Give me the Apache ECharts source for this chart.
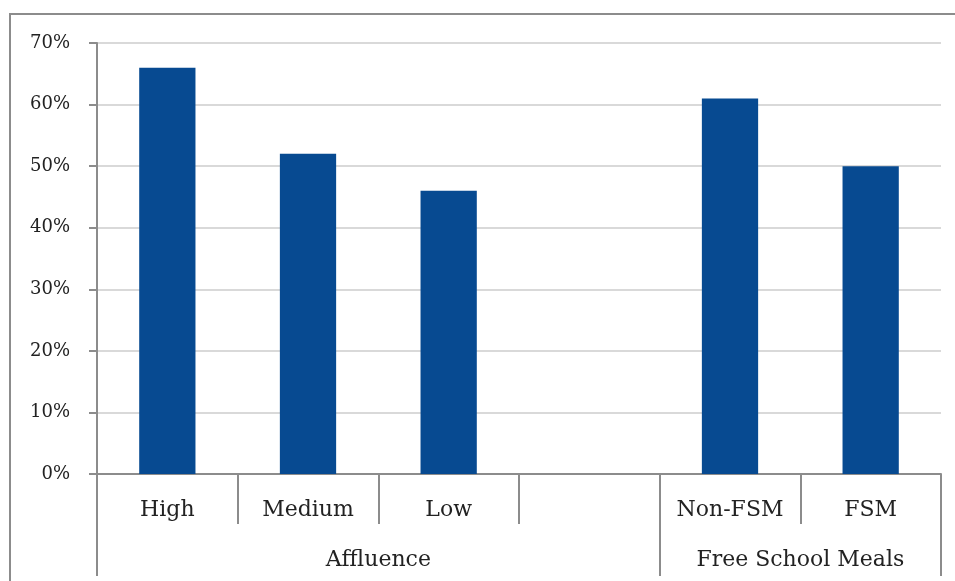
<!DOCTYPE html>
<html><head><meta charset="utf-8">
<script src="https://cdn.jsdelivr.net/npm/echarts@6/dist/echarts.min.js"></script>
<style>html,body{margin:0;padding:0;background:#fff}#c{width:955px;height:581px}</style>
</head><body><div id="c"></div>
<script>
const categories = ['High', 'Medium', 'Low', '', 'Non-FSM', 'FSM'];
const values = [66, 52, 46, null, 61, 50];
const groups = ['Affluence', 'Free School Meals'];
const groupBounds = [0, 4, 6];
const groupCenters = [2, 5];
const yTicks = [0, 10, 20, 30, 40, 50, 60, 70];

const chart = echarts.init(document.getElementById('c'));
const font = '"DejaVu Serif", "Liberation Serif", serif';
const axisGray = '#8c8c8c';
chart.setOption({
  animation: false,
  grid: { left: 97, right: 14, top: 43, bottom: 107, containLabel: false },
  graphic: [{
    type: 'rect', shape: { x: 10, y: 14, width: 1000, height: 700 },
    style: { fill: 'none', stroke: axisGray, lineWidth: 2 }, silent: true, z: -1
  }],
  xAxis: [{
    type: 'category', data: categories, position: 'bottom',
    axisLine: { show: true, lineStyle: { color: axisGray, width: 2 } },
    axisTick: { show: true, interval: 0, length: 50, lineStyle: { color: axisGray, width: 2 } },
    axisLabel: { interval: 0, margin: 25, color: '#222', fontFamily: font, fontSize: 22 },
    splitLine: { show: false }
  }, {
    type: 'value', min: 0, max: 6, position: 'bottom',
    axisLine: { show: false },
    axisTick: { show: true, customValues: groupBounds, length: 102, lineStyle: { color: axisGray, width: 2 } },
    axisLabel: { show: true, customValues: groupCenters, margin: 75, color: '#222', fontFamily: font, fontSize: 22,
      formatter: v => groups[groupCenters.indexOf(v)] },
    splitLine: { show: false }
  }],
  yAxis: {
    type: 'value', min: 0, max: 70, interval: 10,
    axisLine: { show: true, lineStyle: { color: axisGray, width: 2 } },
    axisTick: { show: true, length: 8, lineStyle: { color: axisGray, width: 2 } },
    axisLabel: { margin: 27, color: '#222', fontFamily: font, fontSize: 18,
      formatter: v => yTicks.includes(v) ? v + '%' : '' },
    splitLine: { show: true, lineStyle: { color: '#d9d9d9', width: 2 } }
  },
  series: [{
    type: 'bar', data: values, xAxisIndex: 0, barWidth: '40%',
    itemStyle: { color: '#074a91' }
  }]
});
</script></body></html>
